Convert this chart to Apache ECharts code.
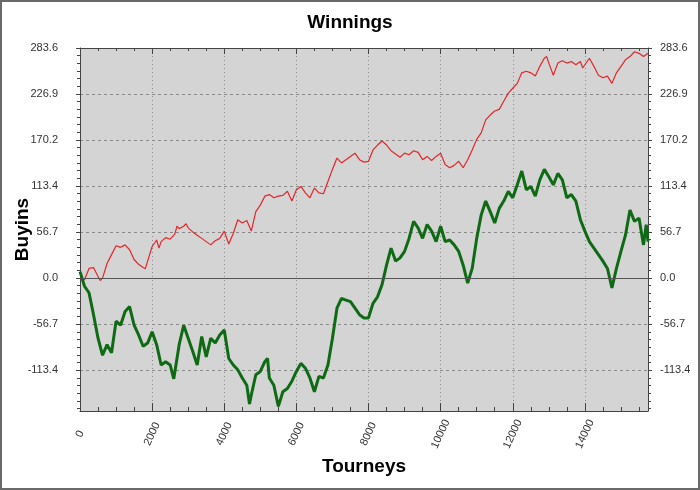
<!DOCTYPE html>
<html><head><meta charset="utf-8">
<script src="https://cdn.jsdelivr.net/npm/echarts@6/dist/echarts.min.js"></script>
<style>html,body{margin:0;padding:0;background:#fff}#c{width:700px;height:490px}</style>
</head><body><div id="c"></div>
<script>
// ---- data ----
const chartTitle = 'Winnings';
const xName = 'Tourneys';
const yName = 'Buyins';
const yTickLabels = [-113.4, -56.7, 0.0, 56.7, 113.4, 170.2, 226.9, 283.6];
const xMin = 0, xMax = 15750, xStep = 2000;
const yMin = -163.7, yMax = 283.6;

const redX = [0,125,250,375,500,560,625,750,875,1000,1125,1250,1375,1500,1625,1750,1810,1875,2000,2125,2190,2250,2375,2500,2625,2690,2750,2875,2940,3000,3125,3250,3375,3500,3625,3750,3875,4000,4125,4250,4375,4500,4625,4750,4875,5000,5125,5250,5375,5500,5625,5750,5875,6000,6125,6250,6375,6500,6625,6750,6875,7000,7125,7250,7375,7500,7625,7750,7875,8000,8125,8250,8375,8500,8625,8750,8875,9000,9125,9250,9375,9500,9625,9750,9875,10000,10125,10250,10375,10500,10625,10750,10875,11000,11125,11250,11375,11500,11625,11750,11875,12000,12125,12250,12375,12500,12625,12750,12875,12940,13000,13125,13250,13375,13500,13625,13750,13875,13940,14000,14125,14250,14375,14500,14625,14750,14875,15000,15125,15250,15375,15500,15625,15750];
const redY = [0,-2,12,13,2,-3,0,18,29,40,38,41,35,23,17,13,11.5,21,39,47,37,45,50,48,54,64,61,64,67,62,57,53,49,45,41,46,49,58,42,55,72,68,71,58,82,90,101,103,99,101,102,107,95,109,113,105,99,111,105,104,119,134,148,142,146,150,154,146,143,144,158,164,169,164,157,153,149,154,152,157,155,146,150,145,150,154,140,136,139,144,136,146,158,171,179,195,201,206,208,218,228,234,240,253,255,253,249,261,271,273,265,250,265,268,265,267,263,267,259,263,271,261,250,247,249,240,253,261,269,273,279,277,273,277];

const greenX = [0,125,250,375,500,625,750,875,1000,1125,1250,1375,1500,1625,1750,1875,2000,2125,2250,2375,2500,2600,2750,2875,3000,3125,3250,3375,3500,3625,3750,3875,4000,4125,4250,4375,4500,4625,4700,4750,4875,5000,5125,5200,5250,5375,5500,5625,5750,5875,6000,6125,6250,6375,6500,6625,6750,6875,7000,7125,7250,7375,7500,7625,7750,7875,8000,8125,8250,8375,8500,8625,8750,8875,9000,9125,9250,9375,9500,9625,9750,9875,10000,10125,10250,10375,10500,10625,10750,10875,11000,11125,11250,11375,11500,11625,11750,11875,12000,12125,12250,12375,12500,12625,12750,12875,13000,13125,13250,13375,13500,13625,13750,13875,14000,14125,14250,14375,14500,14625,14750,14875,15000,15125,15250,15375,15500,15625,15700,15750];
const greenY = [8,-10,-18,-45,-74,-95,-82,-92,-53,-58,-41,-35,-58,-70,-84,-80,-66,-82,-107,-103,-107,-124,-82,-58,-74,-90,-107,-72,-97,-74,-80,-70,-64,-99,-107,-113,-123,-132,-155,-144,-119,-115,-103,-99,-123,-132,-158,-140,-136,-127,-115,-105,-111,-123,-140,-121,-123,-107,-74,-37,-25,-27,-29,-37,-45,-49,-49,-31,-23,-8,16,37,21,25,33,49,70,62,49,66,58,45,64,45,47,41,33,16,-6,12,49,78,95,82,68,86,95,107,99,115,132,109,113,101,121,134,125,115,129,121,99,103,95,72,58,45,37,29,21,12,-12,12,33,53,84,70,74,41,66,45];

// ---- chart ----
const FONT = '"Liberation Sans", Arial, sans-serif';
const zip = (xs, ys) => xs.map((x, i) => [x, ys[i]]);
const minorY = [];
const minorStep = (yTickLabels[7] - yTickLabels[6]) / 6;
for (let v = yMax; v > yMin; v -= minorStep) minorY.push(+v.toFixed(3));

const axisColor = '#444';
const labelStyle = { color: '#333', fontSize: 11, fontFamily: FONT };

const chart = echarts.init(document.getElementById('c'));
chart.setOption({
  animation: false,
  backgroundColor: '#fff',
  title: { text: chartTitle, left: 'center', top: 8,
    textStyle: { fontSize: 19, fontWeight: 'bold', color: '#000', fontFamily: FONT } },
  grid: { left: 80, right: 52, top: 48, bottom: 79, show: true, containLabel: false,
    outerBoundsMode: 'none', backgroundColor: '#d4d4d4', borderWidth: 0 },
  graphic: [{ type: 'rect', silent: true, shape: { x: 1, y: 1, width: 698, height: 488 },
    style: { fill: 'none', stroke: '#6a6a6a', lineWidth: 2 } }],
  xAxis: [
    { type: 'value', min: xMin, max: xMax, interval: xStep, position: 'bottom',
      axisLine: { show: true, onZero: false, lineStyle: { color: axisColor } },
      axisTick: { show: true, inside: true, length: 8, lineStyle: { color: axisColor } },
      minorTick: { show: true, splitNumber: 4, length: 4, lineStyle: { color: axisColor } },
      axisLabel: Object.assign({ rotate: 65, align: 'center', verticalAlign: 'middle', margin: 23,
        showMaxLabel: false, formatter: v => String(v) }, labelStyle),
      splitLine: { show: true, lineStyle: { color: '#8a8a8a', type: [1, 3] } },
      name: xName, nameLocation: 'middle', nameGap: 46, nameMoveOverlap: false,
      nameTextStyle: { fontSize: 19, fontWeight: 'bold', color: '#000', fontFamily: FONT } },
    { type: 'value', min: xMin, max: xMax, interval: xStep, position: 'top',
      axisLine: { show: true, onZero: false, lineStyle: { color: axisColor } },
      axisTick: { show: true, inside: true, length: 6, lineStyle: { color: axisColor } },
      minorTick: { show: true, splitNumber: 4, length: 3, lineStyle: { color: axisColor } },
      axisLabel: { show: false }, splitLine: { show: false } }
  ],
  yAxis: [
    { type: 'value', min: yMin, max: yMax, position: 'left',
      axisLine: { show: true, onZero: false, lineStyle: { color: axisColor } },
      axisTick: { show: true, customValues: yTickLabels, length: 4, lineStyle: { color: axisColor } },
      axisLabel: Object.assign({ customValues: yTickLabels, margin: 22,
        formatter: v => Number(v).toFixed(1) }, labelStyle),
      splitLine: { show: true, lineStyle: { color: '#8a8a8a', type: [3, 3] } },
      name: yName, nameLocation: 'middle', nameGap: 48, nameMoveOverlap: false,
      nameTextStyle: { fontSize: 19, fontWeight: 'bold', color: '#000', fontFamily: FONT } },
    { type: 'value', min: yMin, max: yMax, position: 'right',
      axisLine: { show: true, onZero: false, lineStyle: { color: axisColor } },
      axisTick: { show: true, customValues: yTickLabels, length: 4, lineStyle: { color: axisColor } },
      axisLabel: Object.assign({ customValues: yTickLabels, margin: 12,
        formatter: v => Number(v).toFixed(1) }, labelStyle),
      splitLine: { show: false } },
    { type: 'value', min: yMin, max: yMax, position: 'left',
      axisLine: { show: false, onZero: false },
      axisTick: { show: true, customValues: minorY, length: 3, lineStyle: { color: axisColor } },
      axisLabel: { show: false }, splitLine: { show: false } },
    { type: 'value', min: yMin, max: yMax, position: 'right',
      axisLine: { show: false, onZero: false },
      axisTick: { show: true, customValues: minorY, length: 3, lineStyle: { color: axisColor } },
      axisLabel: { show: false }, splitLine: { show: false } }
  ],
  series: [
    { type: 'line', data: [], xAxisIndex: 0, yAxisIndex: 0, z: 1, silent: true,
      markLine: { silent: true, symbol: 'none', label: { show: false },
        lineStyle: { color: '#555', type: 'solid', width: 1 }, data: [{ yAxis: 0 }] } },
    { type: 'line', data: zip(redX, redY), xAxisIndex: 0, yAxisIndex: 0, showSymbol: false,
      lineStyle: { color: '#e3262a', width: 1.2 }, z: 3 },
    { type: 'line', data: zip(greenX, greenY), xAxisIndex: 0, yAxisIndex: 0, showSymbol: false,
      lineStyle: { color: '#0e6b14', width: 3 }, z: 4 }
  ]
});
</script></body></html>
